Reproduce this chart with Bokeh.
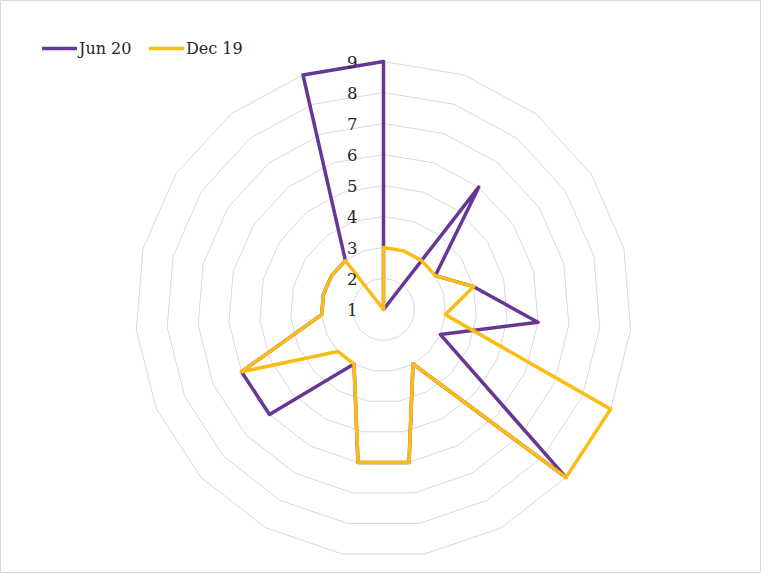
import math
from bokeh.plotting import figure
from bokeh.models import Legend, LegendItem, ColumnDataSource
from bokeh.core.properties import value
from bokeh.embed import file_html
from bokeh.resources import INLINE

# ---- data ----
series_names = ["Jun 20", "Dec 19"]
jun20 = [9, 1, 6, 3, 4, 6, 3, 9, 3, 6, 6, 3, 6, 6, 3, 3, 3, 3, 9]
dec19 = [3, 3, 3, 3, 4, 3, 9, 9, 3, 6, 6, 3, 3, 6, 3, 3, 3, 3, 1]
tick_values = [1, 2, 3, 4, 5, 6, 7, 8, 9]
tick_labels = ["1", "2", "3", "4", "5", "6", "7", "8", "9"]

# ---- styles ----
PURPLE = "#673795"
YELLOW = "#FBBC14"
GRID = "#d9d9d9"
TEXT = "#262626"
FONT = "DejaVu Serif"

W, H = 761, 573
CX, CY = 383, 309          # canvas position of the radar centre
PX = 31.0                  # pixels per value unit
vmin = tick_values[0]
n = len(jun20)

x_range = (-CX / PX, (W - CX) / PX)
y_range = (-(H - CY) / PX, CY / PX)

p = figure(width=W, height=H, x_range=x_range, y_range=y_range,
           output_backend="svg", toolbar_location=None, min_border=0)
p.axis.visible = False
p.grid.visible = False
p.outline_line_color = "#d9d9d9"
p.background_fill_color = "white"
p.border_fill_color = "white"


def polar(vals):
    xs, ys = [], []
    for k, v in enumerate(vals):
        t = 2 * math.pi * k / n
        r = v - vmin
        xs.append(r * math.sin(t))
        ys.append(r * math.cos(t))
    xs.append(xs[0])
    ys.append(ys[0])
    return xs, ys


# grid rings
for lvl in tick_values[1:]:
    gx, gy = polar([lvl] * n)
    p.line(gx, gy, line_color=GRID, line_width=1)

# series
px_, py_ = polar(jun20)
r1 = p.line(px_, py_, line_color=PURPLE, line_width=3.5, line_join="round",
            line_cap="round")
yx_, yy_ = polar(dec19)
r2 = p.line(yx_, yy_, line_color=YELLOW, line_width=3.5, line_join="round",
            line_cap="round")

# value axis labels
src = ColumnDataSource(dict(x=[0] * len(tick_values),
                            y=[v - vmin for v in tick_values],
                            t=tick_labels))
p.text(x="x", y="y", text="t", source=src, x_offset=-26,
       text_align="right", text_baseline="middle",
       text_font=value(FONT), text_font_size="16.5px", text_color=TEXT)

# legends
for rend, name, lx in [(r1, series_names[0], 42), (r2, series_names[1], 149)]:
    lg = Legend(items=[LegendItem(label=name, renderers=[rend])],
                location=(lx, 515), padding=0, margin=0, spacing=0,
                glyph_width=35, glyph_height=20, label_height=20,
                label_standoff=2, border_line_color=None,
                background_fill_alpha=0,
                label_text_font=FONT, label_text_font_size="16px",
                label_text_color=TEXT)
    p.add_layout(lg, "center")

open("out.html", "w").write(file_html(p, INLINE))
